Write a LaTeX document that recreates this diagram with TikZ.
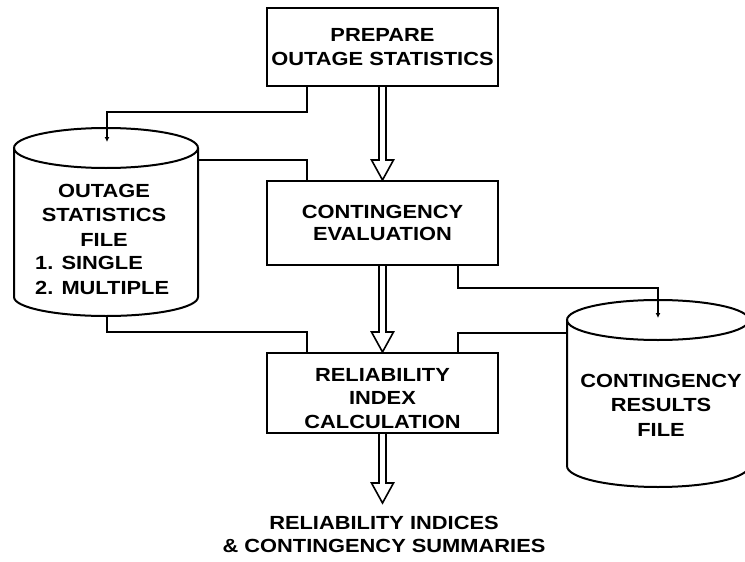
\documentclass[tikz,border=0pt]{standalone}
\usepackage{fontspec}
\setmainfont{Liberation Sans}[FakeStretch=1.15]
\usetikzlibrary{calc,arrows.meta}
\tikzset{
  box/.style={draw, line width=2pt, minimum width=231pt, inner sep=0pt, align=center,
    font=\bfseries\fontsize{19}{24.5}\selectfont},
  txt/.style={inner sep=0pt, align=center, font=\bfseries\fontsize{19}{24.5}\selectfont},
  conn/.style={line width=2pt},
  tipped/.style={-{Latex[length=5pt,width=5pt]}},
  fat/.style={line width=1.6pt, line join=miter},
  cyl/.style={line width=2pt}
}
\newcommand\fatarrow[2]{%
  \draw[fat] let \p1=(#1), \p2=(#2) in
    (\x1-3.5pt,\y1) -- (\x1-3.5pt,\y2+20pt) -- (\x1-11pt,\y2+20pt) -- (\x1,\y2)
    -- (\x1+11pt,\y2+20pt) -- (\x1+3.5pt,\y2+20pt) -- (\x1+3.5pt,\y1);}
\begin{document}
\begin{tikzpicture}[x=1pt,y=-1pt]
\useasboundingbox (0,0) rectangle (745,562);
% boxes
\node[box, minimum height=78pt] (prep) at (382.5,47) {PREPARE\\OUTAGE STATISTICS};
\node[box, minimum height=84pt, font=\bfseries\fontsize{19}{22}\selectfont] (cont) at (382.5,223) {CONTINGENCY\\EVALUATION};
\node[box, minimum height=80pt] (rel) at (382.5,393) {};
\node[txt, font=\bfseries\fontsize{19}{23.5}\selectfont] (reltxt) at (382.5,398.5) {RELIABILITY\\INDEX\\CALCULATION};
% left cylinder (outage statistics file)
\draw[cyl] (14,148) -- (14,297) arc[start angle=180, end angle=360, x radius=92pt, y radius=19pt] -- (198,148);
\draw[cyl] (106,148) ellipse[x radius=92pt, y radius=20pt];
\node[txt] (osf) at (104,215) {OUTAGE\\STATISTICS\\FILE};
\node[txt, align=left, anchor=west] (osflist) at (35,275.5) {1. SINGLE\\2. MULTIPLE};
\coordinate (osfin) at (107,142);
\coordinate (osfr) at (198,160);
\coordinate (osfbot) at (107,316);
% right cylinder (contingency results file)
\draw[cyl] (567,320) -- (567,466) arc[start angle=180, end angle=360, x radius=91pt, y radius=21pt] -- (749,320);
\draw[cyl] (658,320) ellipse[x radius=91pt, y radius=20pt];
\node[txt] (crf) at (661,405) {CONTINGENCY\\RESULTS\\FILE};
\coordinate (crfin) at (658,318);
\coordinate (crfl) at (567,333);
% helper coordinates
\coordinate (lx) at (307,0);
\coordinate (rx) at (458,0);
\coordinate (y1) at (0,112);
\coordinate (y2) at (0,332);
\coordinate (y3) at (0,288);
% connectors
\draw[conn, tipped] (prep.south -| lx) -- (lx |- y1) -| (osfin);
\draw[conn] (osfr) -| (cont.north -| lx);
\draw[conn] (osfbot) -- (osfbot |- y2) -| (rel.north -| lx);
\draw[conn, tipped] (cont.south -| rx) -- (rx |- y3) -| (crfin);
\draw[conn] (rel.north -| rx) |- (crfl);
% fat arrows
\coordinate (outtip) at (382.5,503);
\fatarrow{prep.south}{cont.north}
\fatarrow{cont.south}{rel.north}
\fatarrow{rel.south}{outtip}
% output text
\node[txt, font=\bfseries\fontsize{19}{23}\selectfont] (out) at (384,534) {RELIABILITY INDICES\\\& CONTINGENCY SUMMARIES};
\end{tikzpicture}
\end{document}
